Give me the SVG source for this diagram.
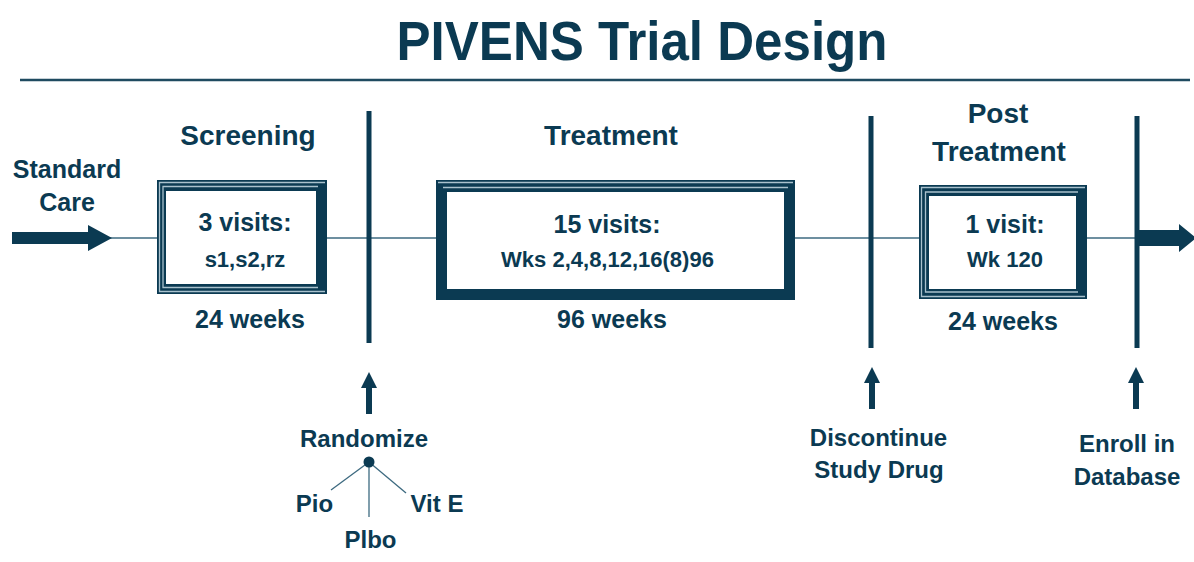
<svg xmlns="http://www.w3.org/2000/svg" width="1194" height="562" viewBox="0 0 1194 562">
<style>
text{font-family:"Liberation Sans",Arial,sans-serif;font-weight:bold;fill:#0b3a52;text-anchor:middle}
.t25{font-size:25px}.t24{font-size:24px}.t22{font-size:22px}.t28{font-size:28px}
.dark{fill:#0b3a52}
.light{fill:none;stroke:#a9c1cd;stroke-width:1.3}
.thin{stroke:#3d6a80;stroke-width:1.5;fill:none}
.bar{stroke:#0b3a52;stroke-width:5;fill:none}
</style>
<rect width="1194" height="562" fill="#fff"/>
<g id="title">
<text x="642" y="60" style="font-size:56px" textLength="491" lengthAdjust="spacingAndGlyphs">PIVENS Trial Design</text>
<line x1="20" y1="80" x2="1190" y2="80" stroke="#1f4a60" stroke-width="2.5"/>
</g>
<g id="connectors">
<line class="thin" x1="100" y1="238" x2="1140" y2="238"/>
<polygon class="dark" points="12,232 88,232 88,225 112,238 88,251 88,244 12,244"/>
<polygon class="dark" points="1137,230 1179,230 1179,224 1196,238 1179,252 1179,246 1137,246"/>
<line class="bar" x1="369" y1="111" x2="369" y2="343"/>
<line class="bar" x1="871" y1="116" x2="871" y2="348"/>
<line class="bar" x1="1137" y1="116" x2="1137" y2="348"/>
<polygon class="dark" points="369,372 377,388 372,388 372,414 366,414 366,388 361,388"/>
<polygon class="dark" points="872,367 880,383 875,383 875,409 869,409 869,383 864,383"/>
<polygon class="dark" points="1136,367 1144,383 1139,383 1139,409 1133,409 1133,383 1128,383"/>
<g stroke="#3d6a80" stroke-width="1.3">
<line x1="369" y1="462" x2="331" y2="490"/>
<line x1="369" y1="462" x2="369" y2="517"/>
<line x1="369" y1="462" x2="406" y2="493"/>
</g>
<circle class="dark" cx="369" cy="462" r="5.5"/>
</g>
<g id="standard-care">
<text class="t25" x="67" y="178">Standard</text>
<text class="t25" x="67" y="211">Care</text>
</g>
<g id="screening">
<text class="t28" x="248" y="145">Screening</text>
<rect class="dark" x="157" y="180" width="170" height="114"/>
<rect x="166" y="191" width="150" height="93" fill="#fff"/>
<path class="light" d="M325,182.5 H159.5 V291.5 H325"/>
<path class="light" d="M318,186.5 H163 V287.5 H318"/>
<text class="t25" x="245" y="231">3 visits:</text>
<text class="t22" x="245" y="267">s1,s2,rz</text>
<text class="t25" x="250" y="328">24 weeks</text>
</g>
<g id="treatment">
<text class="t28" x="611" y="145">Treatment</text>
<rect class="dark" x="436" y="180" width="359" height="120"/>
<rect x="447" y="192" width="337" height="97" fill="#fff"/>
<path class="light" d="M438,182.5 H793"/>
<path class="light" d="M443,187.5 H788"/>
<text class="t25" x="607" y="233">15 visits:</text>
<text class="t22" x="607.5" y="267">Wks 2,4,8,12,16(8)96</text>
<text class="t25" x="612" y="328">96 weeks</text>
</g>
<g id="post-treatment">
<text class="t28" x="998" y="123">Post</text>
<text class="t28" x="999" y="161">Treatment</text>
<rect class="dark" x="919" y="185" width="168" height="114"/>
<rect x="929" y="196" width="147" height="93" fill="#fff"/>
<path class="light" d="M1085,187.5 H921.5 V296.5 H1085"/>
<path class="light" d="M1078,192 H925.5 V292 H1078"/>
<text class="t25" x="1005" y="233">1 visit:</text>
<text class="t22" x="1005" y="267">Wk 120</text>
<text class="t25" x="1003" y="330">24 weeks</text>
</g>
<g id="randomize">
<text class="t24" x="364" y="447">Randomize</text>
<text class="t24" x="314.5" y="512">Pio</text>
<text class="t24" x="437" y="512">Vit E</text>
<text class="t24" x="370.5" y="548">Plbo</text>
</g>
<g id="discontinue">
<text class="t24" x="878.5" y="446">Discontinue</text>
<text class="t24" x="879" y="478">Study Drug</text>
</g>
<g id="enroll">
<text class="t24" x="1127" y="452">Enroll in</text>
<text class="t24" x="1127" y="485">Database</text>
</g>
</svg>
